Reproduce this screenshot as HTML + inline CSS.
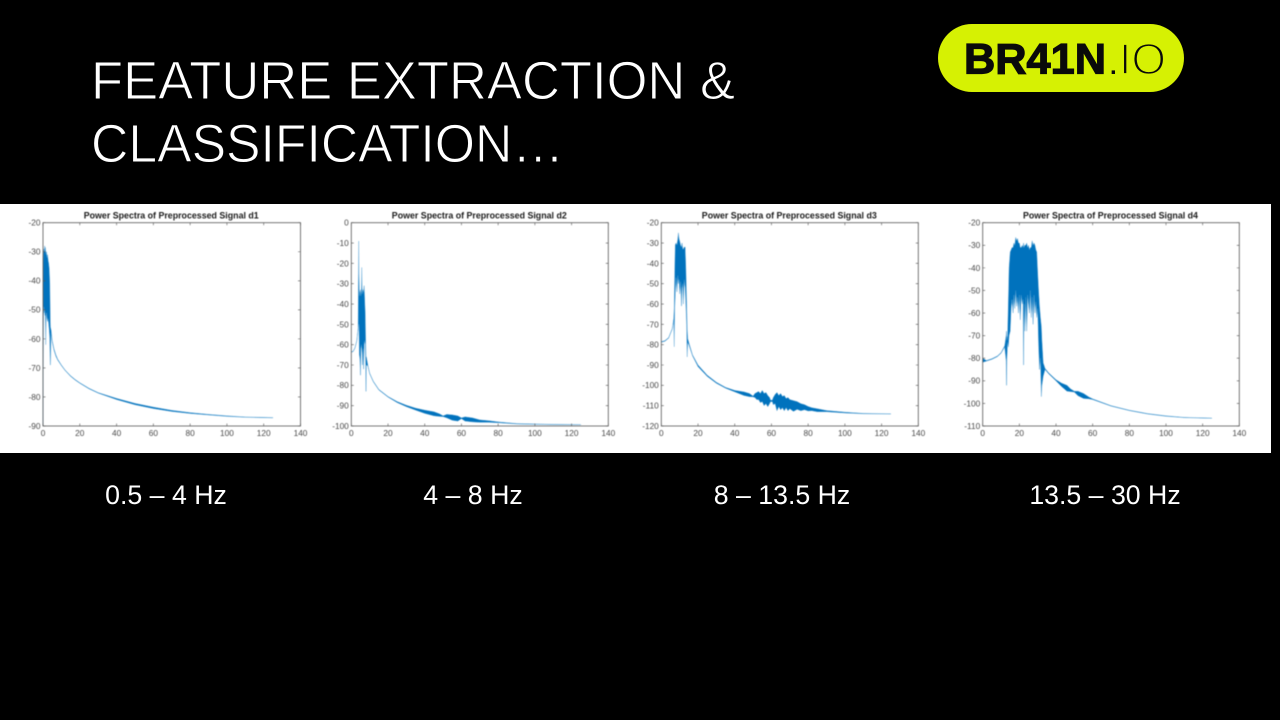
<!DOCTYPE html>
<html lang="en">
<head>
<meta charset="utf-8">
<title>Feature Extraction and Classification</title>
<style>
html,body{margin:0;padding:0;background:#000;}
body{width:1280px;height:720px;overflow:hidden;position:relative;}
svg{position:absolute;left:0;top:0;}
text{font-family:"Liberation Sans",sans-serif;}
</style>
</head>
<body>
<svg id="slide-svg" width="1280" height="720" viewBox="0 0 1280 720">
  <rect x="0" y="0" width="1280" height="720" fill="#000"/>
  <text x="91" y="99" font-size="54" fill="#fff" stroke="#000" stroke-width="1" textLength="644" lengthAdjust="spacingAndGlyphs">FEATURE EXTRACTION &amp;</text>
  <text x="91" y="162" font-size="54" fill="#fff" stroke="#000" stroke-width="1" textLength="473" lengthAdjust="spacingAndGlyphs">CLASSIFICATION…</text>
  <g>
    <rect x="938" y="24" width="246" height="68" rx="34" fill="#d6f103"/>
    <text x="964" y="73.5" font-size="43" font-weight="700" fill="#0a0a0a" stroke="#0a0a0a" stroke-width="1.2" textLength="142" lengthAdjust="spacingAndGlyphs">BR41N</text>
    <text x="1110" y="74" font-size="24" font-weight="700" fill="#0a0a0a">.</text>
    <text x="1119" y="74" font-size="44" fill="#0a0a0a" stroke="#d6f103" stroke-width="1.8" textLength="47" lengthAdjust="spacingAndGlyphs">IO</text>
  </g>
  <rect x="0" y="204" width="1271" height="249" fill="#fff"/>
  <g id="charts" style="filter:blur(0.4px)"></g>
  <text x="166" y="504" font-size="26.7" fill="#fff" text-anchor="middle">0.5 – 4 Hz</text>
  <text x="473" y="504" font-size="26.7" fill="#fff" text-anchor="middle">4 – 8 Hz</text>
  <text x="782" y="504" font-size="26.7" fill="#fff" text-anchor="middle">8 – 13.5 Hz</text>
  <text x="1105" y="504" font-size="26.7" fill="#fff" text-anchor="middle">13.5 – 30 Hz</text>
</svg>
<script>
var xTicks = [0, 20, 40, 60, 80, 100, 120, 140];
var d1YTicks = [-20, -30, -40, -50, -60, -70, -80, -90];
var d2YTicks = [0, -10, -20, -30, -40, -50, -60, -70, -80, -90, -100];
var d3YTicks = [-20, -30, -40, -50, -60, -70, -80, -90, -100, -110, -120];
var d4YTicks = [-20, -30, -40, -50, -60, -70, -80, -90, -100, -110];

var d1Freq = [0.05, 0.15, 0.3, 0.5, 0.7, 0.9, 1.1, 1.3, 1.5, 1.7, 1.9, 2.2, 2.5, 2.8, 3.1, 3.4, 3.7, 3.95, 4.05, 4.4, 5, 6, 7, 8, 10, 12, 15, 17.5, 20, 25, 30, 40, 50, 60, 70, 80, 90, 100, 110, 125];
var d1Hi = [-80, -34, -30, -29, -30, -28, -30, -28.5, -30, -31, -30, -32, -31, -33, -34, -36, -41, -54, -56, -57, -60.5, -63.5, -65.5, -67, -69, -70.7, -72.7, -74, -75.1, -77, -78.5, -80.5, -82.2, -83.5, -84.6, -85.4, -86, -86.5, -86.9, -87.1];
var d1Lo = [-90, -70, -52, -49, -51, -50, -52, -52, -62, -52, -51, -53, -54, -53, -55, -57, -60, -69, -69, -58, -61, -64, -66, -67.3, -69.2, -70.9, -72.9, -74.2, -75.3, -77.2, -78.7, -80.9, -82.7, -84, -85, -85.7, -86.2, -86.7, -87, -87.2];

var d2Freq = [0, 1, 2, 3, 3.7, 4.05, 4.15, 4.4, 4.7, 5, 5.2, 5.5, 5.7, 5.85, 6.1, 6.4, 6.7, 7, 7.3, 7.6, 7.85, 8, 8.2, 9, 10, 12, 15, 20, 25, 30, 35, 40, 45, 48, 50, 52, 55, 58, 60, 62, 66, 70, 75, 80, 90, 100, 110, 125];
var d2Hi = [-63.5, -63.2, -61.5, -58, -52, -9, -25, -36, -34, -33, -36, -34, -22, -32, -35, -33, -34, -31, -38, -45, -60, -66, -66, -70, -74, -78, -82, -85.5, -88, -89.8, -91.2, -92.2, -93, -94, -95, -94.3, -94.5, -95, -96, -95.5, -96, -97, -97.4, -98, -98.8, -99, -99.2, -99.3];
var d2Lo = [-63.7, -63.4, -61.7, -58.2, -52.5, -50, -50, -65, -67, -75, -62, -60, -62, -64, -70, -62, -72, -60, -58, -60, -70, -83, -70, -70.4, -74.3, -78.3, -82.3, -85.8, -88.5, -90.5, -92.2, -93.8, -95, -95.3, -95.4, -96, -97.2, -97.6, -96.4, -97.6, -98, -98.2, -98.2, -98.4, -99, -99.2, -99.3, -99.4];

var d3Freq = [0, 2, 4, 6, 6.8, 7.05, 7.3, 7.6, 8, 8.5, 9, 9.3, 9.7, 10, 10.5, 11, 11.3, 11.7, 12, 12.5, 13, 13.4, 13.8, 14.1, 14.4, 15, 17, 20, 25, 30, 35, 40, 45, 48, 50, 51, 52, 53, 54, 55, 56, 57, 58, 59, 59.5, 60.5, 61, 62, 63, 64, 65, 66, 67, 68, 69, 70, 72, 74, 76, 78, 80, 82, 85, 90, 100, 110, 125];
var d3Hi = [-78.5, -78, -76.5, -72, -67, -62, -45, -31, -30, -31, -28, -25, -28, -29, -31, -32, -30, -33, -33, -32, -32, -43, -60, -72, -77, -79, -85, -90, -95, -98.5, -101, -102.5, -103.2, -104, -105.3, -104, -103.5, -103, -104, -102.5, -104, -103.5, -105, -106, -107.3, -107.3, -106, -104.5, -103.5, -105, -104, -105.5, -105, -106.5, -106, -107, -107.5, -108, -109, -109.5, -110.4, -111, -111.5, -112.4, -113.2, -113.8, -114];
var d3Lo = [-78.8, -78.3, -76.8, -72.3, -67.5, -81, -62, -55, -47, -54, -46, -50, -48, -55, -49, -61, -52, -50, -60, -48, -52, -60, -70, -86, -79, -80, -85.5, -90.8, -95.6, -99, -101.4, -103.2, -105, -105.6, -105.7, -106, -107, -107, -108.5, -108, -110, -109, -110.5, -109, -108, -108, -109.5, -109, -112.5, -110.5, -112, -111, -112.5, -111, -112.5, -111.5, -112.8, -111.8, -112.5, -112, -112.6, -112.5, -113, -113, -113.6, -114, -114.1];

var d4Freq = [0, 2, 5, 8, 10, 12, 12.8, 13, 13.2, 13.6, 14, 14.4, 15, 15.5, 16, 16.6, 17, 17.5, 18, 18.5, 19, 19.5, 20, 20.5, 21, 21.6, 22, 22.3, 22.6, 23, 23.5, 24, 24.5, 25, 25.5, 26, 26.5, 27, 27.5, 28, 28.5, 29, 29.5, 30, 30.5, 31, 31.5, 32, 32.3, 33, 34, 36, 40, 43, 46, 48, 50, 52, 55, 58, 60, 70, 80, 90, 100, 110, 125];
var d4Hi = [-80, -81, -80.2, -79, -77.5, -74.5, -70, -68, -72, -70, -55, -40, -33, -32, -31, -31, -29, -30, -26.5, -28, -27, -29, -29, -31, -31, -30, -31, -29, -31, -30, -30, -29, -31, -30, -32, -31, -31, -28, -30, -29, -30, -32, -33, -42, -50, -57, -62, -66, -72, -82, -84.5, -86.5, -89.5, -91, -92, -93.6, -94.6, -94.6, -95.6, -97.2, -98, -101, -103, -104.5, -105.5, -106.2, -106.5];
var d4Lo = [-81.8, -81.3, -80.5, -79.3, -77.8, -75, -81, -92, -80, -73, -75, -70, -68, -58, -54, -60, -52, -58, -50, -57, -53, -60, -52, -63, -52, -56, -54, -83, -56, -68, -53, -68, -52, -56, -60, -50, -62, -53, -65, -52, -60, -55, -62, -58, -74, -85, -80, -97, -92, -88, -85, -86.9, -90, -92.5, -94.6, -94.8, -95, -96.6, -97.8, -98, -98.3, -101.2, -103.2, -104.7, -105.7, -106.3, -106.6];

var panels = [
  {id: 'd1', title: 'Power Spectra of Preprocessed Signal d1', l: 43, r: 300.5, yMax: -20, yMin: -90, yTicks: d1YTicks, freq: d1Freq, hi: d1Hi, lo: d1Lo},
  {id: 'd2', title: 'Power Spectra of Preprocessed Signal d2', l: 351.3, r: 608.3, yMax: 0, yMin: -100, yTicks: d2YTicks, freq: d2Freq, hi: d2Hi, lo: d2Lo},
  {id: 'd3', title: 'Power Spectra of Preprocessed Signal d3', l: 661.3, r: 918.3, yMax: -20, yMin: -120, yTicks: d3YTicks, freq: d3Freq, hi: d3Hi, lo: d3Lo},
  {id: 'd4', title: 'Power Spectra of Preprocessed Signal d4', l: 982.7, r: 1239.3, yMax: -20, yMin: -110, yTicks: d4YTicks, freq: d4Freq, hi: d4Hi, lo: d4Lo}
];

var NS = 'http://www.w3.org/2000/svg';
var TOP = 222.7, BOTTOM = 426;
var root = document.getElementById('charts');

function mk(tag, parent) {
  var el = document.createElementNS(NS, tag);
  parent.appendChild(el);
  return el;
}

function drawPanel(p) {
  var sx = function (f) { return p.l + (f / 140) * (p.r - p.l); };
  var sy = function (v) { return TOP + ((p.yMax - v) / (p.yMax - p.yMin)) * (BOTTOM - TOP); };

  var g = mk('g', root);
  
  

  var title = mk('text', g);
  
  
  title.setAttribute('x', (p.l + p.r) / 2 - 0.5);
  title.setAttribute('y', 218.5);
  title.setAttribute('font-size', '8.85');
  title.setAttribute('font-weight', '700');
  title.setAttribute('text-anchor', 'middle');
  title.setAttribute('fill', '#1a1a1a');
  title.textContent = p.title;

  var band = [];
  var i;
  for (i = 0; i < p.freq.length; i++) {
    band.push(sx(p.freq[i]).toFixed(2) + ',' + sy(p.hi[i]).toFixed(2));
  }
  for (i = p.freq.length - 1; i >= 0; i--) {
    band.push(sx(p.freq[i]).toFixed(2) + ',' + sy(p.lo[i]).toFixed(2));
  }
  var area = mk('polygon', g);
  
  
  area.setAttribute('points', band.join(' '));
  area.setAttribute('fill', '#0072bd');
  area.setAttribute('stroke', '#4a9bd0');
  area.setAttribute('stroke-width', '0.4');
  area.setAttribute('stroke-linejoin', 'round');

  var box = mk('rect', g);
  
  
  box.setAttribute('x', p.l);
  box.setAttribute('y', TOP);
  box.setAttribute('width', p.r - p.l);
  box.setAttribute('height', BOTTOM - TOP);
  box.setAttribute('fill', 'none');
  box.setAttribute('stroke', '#555');
  box.setAttribute('stroke-width', '0.8');

  xTicks.forEach(function (t) {
    var x = sx(t);
    var a = mk('path', g);
    
    
    a.setAttribute('d', 'M' + x + ' ' + BOTTOM + 'v-2.5M' + x + ' ' + TOP + 'v2.5');
    a.setAttribute('stroke', '#555');
    a.setAttribute('stroke-width', '0.6');
    var lab = mk('text', g);
    
    
    lab.setAttribute('x', x);
    lab.setAttribute('y', BOTTOM + 10);
    lab.setAttribute('font-size', '8.3');
    lab.setAttribute('text-anchor', 'middle');
    lab.setAttribute('fill', '#4a4a4a');
    lab.textContent = t;
  });

  p.yTicks.forEach(function (t) {
    var y = sy(t);
    var a = mk('path', g);
    
    
    a.setAttribute('d', 'M' + p.l + ' ' + y + 'h2.5M' + p.r + ' ' + y + 'h-2.5');
    a.setAttribute('stroke', '#555');
    a.setAttribute('stroke-width', '0.6');
    var lab = mk('text', g);
    
    
    lab.setAttribute('x', p.l - 2.5);
    lab.setAttribute('y', y + 2.9);
    lab.setAttribute('font-size', '8.3');
    lab.setAttribute('text-anchor', 'end');
    lab.setAttribute('fill', '#4a4a4a');
    lab.textContent = t;
  });
}

panels.forEach(drawPanel);
</script>
</body>
</html>
